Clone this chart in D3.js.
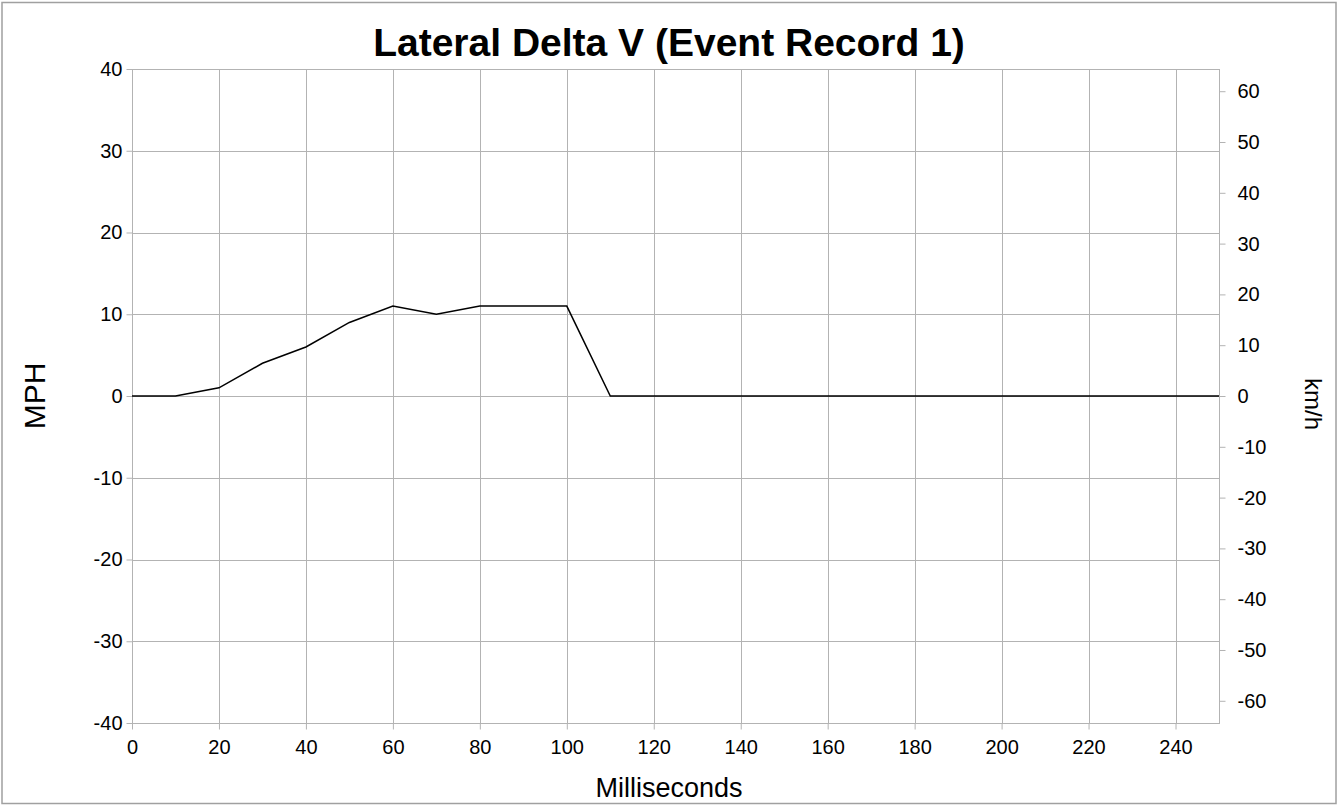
<!DOCTYPE html>
<html>
<head>
<meta charset="utf-8">
<script src="https://cdn.jsdelivr.net/npm/d3@7"></script>
<style>
	body { margin: 0; background: #fff; }
	text { font-family: "Liberation Sans", Arial, sans-serif; fill: #000; }
	.grid line { stroke: #b3b3b3; stroke-width: 1; }
	.axis path, .axis line { stroke: #b3b3b3; }
</style>
</head>
<body>
<svg width="1338" height="805"></svg>
<script>
	// values (10 ms steps)
	var times = [0, 10, 20, 30, 40, 50, 60, 70, 80, 90, 100, 110, 120, 130, 140, 150, 160, 170, 180, 190, 200, 210, 220, 230, 240, 250];
	var mph = [0, 0, 1, 4, 6, 9, 11, 10, 11, 11, 11, 0, 0, 0, 0, 0, 0, 0, 0, 0, 0, 0, 0, 0, 0, 0];
	var xTicks = [0, 20, 40, 60, 80, 100, 120, 140, 160, 180, 200, 220, 240];
	var mphTicks = [-40, -30, -20, -10, 0, 10, 20, 30, 40];
	var kmhTicks = [-60, -50, -40, -30, -20, -10, 0, 10, 20, 30, 40, 50, 60];
	var MPH_TO_KMH = 1.609344;

	var svg = d3.select("svg");
	var pLeft = 132, pRight = 1219, pTop = 69, pBottom = 723;
	var plain = function(d) { return String(d); }; // hyphen, not unicode minus

	// outer frame
	svg.append("rect")
		.attr("x", 2).attr("y", 2.5).attr("width", 1334).attr("height", 801)
		.attr("fill", "none").attr("stroke", "#a0a0a0").attr("stroke-width", 1.5);

	var x = d3.scaleLinear().domain([0, 250]).range([pLeft, pRight]);
	var y = d3.scaleLinear().domain([-40, 40]).range([pBottom, pTop]);
	var y2 = d3.scaleLinear().domain([-40 * MPH_TO_KMH, 40 * MPH_TO_KMH]).range([pBottom, pTop]);

	var grid = svg.append("g").attr("class", "grid");
	grid.selectAll(".gx").data(xTicks).enter().append("line")
		.attr("x1", function(d) { return Math.round(x(d)) + 0.5; })
		.attr("x2", function(d) { return Math.round(x(d)) + 0.5; })
		.attr("y1", pTop).attr("y2", pBottom);
	grid.selectAll(".gy").data(mphTicks).enter().append("line")
		.attr("y1", function(d) { return Math.round(y(d)) + 0.5; })
		.attr("y2", function(d) { return Math.round(y(d)) + 0.5; })
		.attr("x1", pLeft).attr("x2", pRight);

	// plot border
	svg.append("rect")
		.attr("x", pLeft + 0.5).attr("y", pTop + 0.5)
		.attr("width", pRight - pLeft).attr("height", pBottom - pTop)
		.attr("fill", "none").attr("stroke", "#b3b3b3");

	svg.append("g").attr("class", "axis")
		.attr("transform", "translate(0," + (pBottom + 0.5) + ")")
		.call(d3.axisBottom(x).tickValues(xTicks).tickFormat(plain).tickSize(6).tickPadding(10));
	svg.append("g").attr("class", "axis")
		.attr("transform", "translate(" + (pLeft + 0.5) + ",0)")
		.call(d3.axisLeft(y).tickValues(mphTicks).tickFormat(plain).tickSize(6).tickPadding(4));
	svg.append("g").attr("class", "axis")
		.attr("transform", "translate(" + (pRight + 0.5) + ",0)")
		.call(d3.axisRight(y2).tickValues(kmhTicks).tickFormat(plain).tickSize(6).tickPadding(12));

	svg.selectAll(".axis path").remove();
	svg.selectAll(".axis text")
		.attr("font-size", 20)
		.attr("font-family", "Liberation Sans, Arial, sans-serif")
		.attr("fill", "#000");

	// series
	var line = d3.line()
		.x(function(d, i) { return x(times[i]); })
		.y(function(d) { return y(d); });
	svg.append("path")
		.datum(mph)
		.attr("fill", "none")
		.attr("stroke", "#000")
		.attr("stroke-width", 1.5)
		.attr("d", line);

	// titles
	svg.append("text")
		.attr("x", 669).attr("y", 56)
		.attr("text-anchor", "middle")
		.attr("font-size", 39).attr("font-weight", "bold")
		.text("Lateral Delta V (Event Record 1)");
	svg.append("text")
		.attr("x", 669).attr("y", 797)
		.attr("text-anchor", "middle")
		.attr("font-size", 27)
		.text("Milliseconds");
	svg.append("text")
		.attr("transform", "translate(45," + y(0) + ") rotate(-90)")
		.attr("text-anchor", "middle")
		.attr("font-size", 30)
		.text("MPH");
	svg.append("text")
		.attr("transform", "translate(1305,404) rotate(90)")
		.attr("text-anchor", "middle")
		.attr("font-size", 24)
		.text("km/h");
</script>
</body>
</html>
